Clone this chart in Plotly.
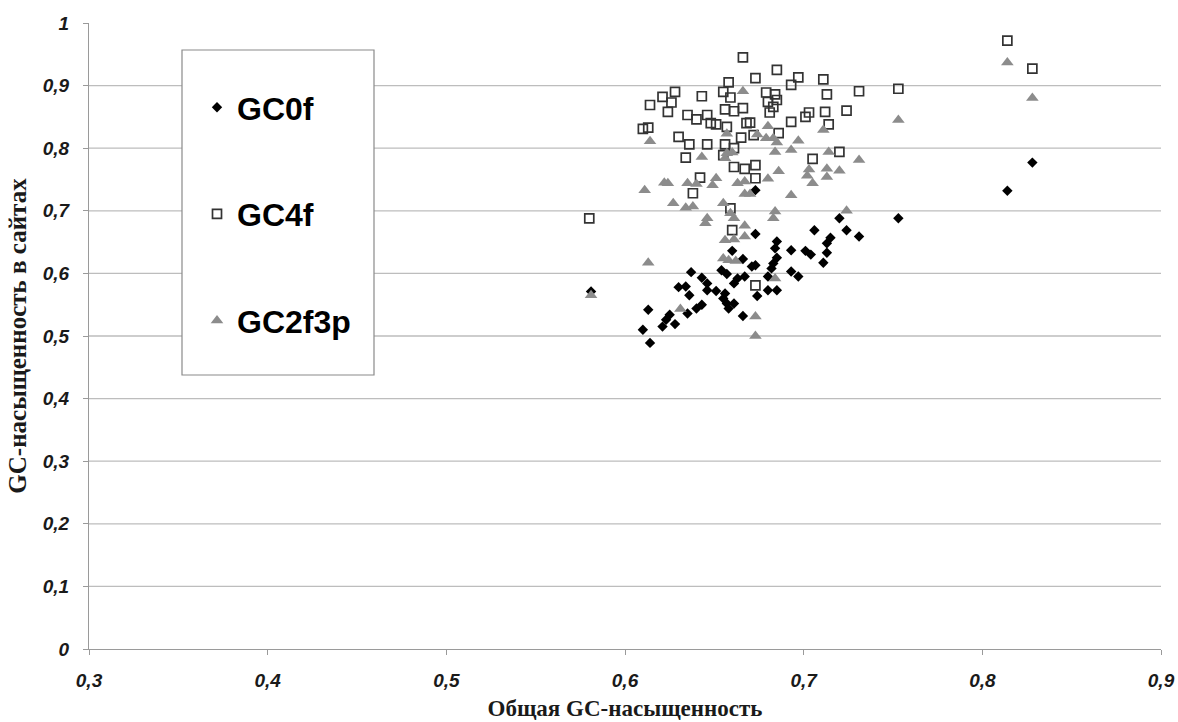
import plotly.graph_objects as go

# GC content: overall (x) vs. per-site (y)
gc0f_x = [0.581, 0.610, 0.613, 0.614, 0.621, 0.623, 0.625, 0.628, 0.630, 0.634,
          0.636, 0.635, 0.637, 0.640, 0.643, 0.643, 0.646, 0.646, 0.651, 0.656,
          0.654, 0.657, 0.661, 0.663, 0.667, 0.655, 0.657, 0.658, 0.661, 0.666,
          0.660, 0.666, 0.673, 0.671, 0.673, 0.674, 0.673, 0.680, 0.680, 0.685,
          0.682, 0.683, 0.685, 0.684, 0.685, 0.693, 0.693, 0.697, 0.701, 0.704,
          0.706, 0.711, 0.713, 0.713, 0.715, 0.720, 0.724, 0.731, 0.753, 0.814,
          0.828]
gc0f_y = [0.571, 0.510, 0.542, 0.489, 0.515, 0.526, 0.534, 0.519, 0.578, 0.579,
          0.565, 0.536, 0.602, 0.544, 0.550, 0.593, 0.584, 0.573, 0.572, 0.568,
          0.605, 0.599, 0.584, 0.592, 0.595, 0.560, 0.552, 0.544, 0.552, 0.532,
          0.636, 0.623, 0.663, 0.611, 0.613, 0.564, 0.733, 0.595, 0.573, 0.573,
          0.608, 0.616, 0.625, 0.640, 0.651, 0.637, 0.603, 0.595, 0.636, 0.630,
          0.669, 0.617, 0.633, 0.648, 0.657, 0.688, 0.669, 0.659, 0.688, 0.732,
          0.777]

gc4f_x = [0.580, 0.610, 0.613, 0.614, 0.621, 0.626, 0.628, 0.624, 0.630, 0.634,
          0.635, 0.636, 0.640, 0.643, 0.646, 0.646, 0.648, 0.651, 0.642, 0.638,
          0.655, 0.659, 0.658, 0.656, 0.661, 0.666, 0.657, 0.656, 0.661, 0.665,
          0.668, 0.655, 0.661, 0.667, 0.666, 0.659, 0.660, 0.673, 0.673, 0.685,
          0.697, 0.693, 0.711, 0.731, 0.679, 0.684, 0.685, 0.680, 0.713, 0.681,
          0.683, 0.703, 0.701, 0.712, 0.724, 0.693, 0.714, 0.670, 0.672, 0.686,
          0.705, 0.720, 0.673, 0.673, 0.814, 0.828, 0.753]
gc4f_y = [0.688, 0.831, 0.833, 0.869, 0.882, 0.873, 0.890, 0.858, 0.818, 0.785,
          0.853, 0.806, 0.846, 0.883, 0.853, 0.806, 0.840, 0.838, 0.753, 0.728,
          0.890, 0.881, 0.905, 0.862, 0.859, 0.864, 0.834, 0.806, 0.800, 0.817,
          0.840, 0.789, 0.770, 0.767, 0.945, 0.704, 0.669, 0.581, 0.912, 0.925,
          0.913, 0.901, 0.910, 0.891, 0.889, 0.886, 0.877, 0.874, 0.886, 0.857,
          0.866, 0.857, 0.850, 0.858, 0.860, 0.842, 0.838, 0.841, 0.821, 0.824,
          0.783, 0.794, 0.773, 0.752, 0.972, 0.927, 0.895]

gc2f3p_x = [0.581, 0.611, 0.614, 0.613, 0.622, 0.624, 0.627, 0.631, 0.634, 0.635,
            0.638, 0.640, 0.643, 0.645, 0.646, 0.649, 0.651, 0.655, 0.656, 0.657,
            0.660, 0.657, 0.659, 0.661, 0.663, 0.666, 0.667, 0.667, 0.667, 0.656,
            0.661, 0.655, 0.658, 0.662, 0.667, 0.670, 0.673, 0.673, 0.674, 0.680,
            0.679, 0.683, 0.685, 0.684, 0.680, 0.686, 0.683, 0.684, 0.693, 0.693,
            0.697, 0.702, 0.703, 0.705, 0.711, 0.713, 0.713, 0.714, 0.720, 0.724,
            0.731, 0.684, 0.814, 0.828, 0.753]
gc2f3p_y = [0.565, 0.733, 0.811, 0.617, 0.745, 0.744, 0.712, 0.543, 0.705, 0.744,
            0.707, 0.743, 0.786, 0.680, 0.688, 0.741, 0.752, 0.712, 0.784, 0.792,
            0.793, 0.823, 0.696, 0.688, 0.744, 0.891, 0.676, 0.747, 0.659, 0.653,
            0.654, 0.624, 0.621, 0.620, 0.727, 0.727, 0.531, 0.500, 0.822, 0.835,
            0.816, 0.816, 0.809, 0.794, 0.751, 0.763, 0.688, 0.699, 0.725, 0.797,
            0.812, 0.756, 0.766, 0.744, 0.829, 0.767, 0.754, 0.794, 0.764, 0.700,
            0.781, 0.592, 0.937, 0.880, 0.845]

x_ticks = [0.3, 0.4, 0.5, 0.6, 0.7, 0.8, 0.9]
x_labels = ["0,3", "0,4", "0,5", "0,6", "0,7", "0,8", "0,9"]
y_ticks = [0, 0.1, 0.2, 0.3, 0.4, 0.5, 0.6, 0.7, 0.8, 0.9, 1.0]
y_labels = ["0", "0,1", "0,2", "0,3", "0,4", "0,5", "0,6", "0,7", "0,8", "0,9", "1"]

tick_font = dict(family="Liberation Sans, Arial, sans-serif", size=19, color="#1a1a1a",
                 weight="bold", style="italic")
serif = "Liberation Serif, Times New Roman, serif"

fig = go.Figure()

fig.add_trace(go.Scatter(
    x=gc0f_x, y=gc0f_y, mode="markers", name="GC0f", legendgroup="a",
    marker=dict(symbol="diamond", size=8, color="#000000", line=dict(width=0)),
))
fig.add_trace(go.Scatter(
    x=gc4f_x, y=gc4f_y, mode="markers", name="GC4f", legendgroup="b",
    marker=dict(symbol="square-open", size=9, color="#333333", line=dict(width=1.7)),
))
fig.add_trace(go.Scatter(
    x=gc2f3p_x, y=gc2f3p_y, mode="markers", name="GC2f3p", legendgroup="c",
    marker=dict(symbol="triangle-up", size=11, color="#8c8c8c", line=dict(width=0)),
))

shapes = []
# horizontal grid
for v in y_ticks[1:-1]:
    shapes.append(dict(type="line", xref="paper", yref="y", x0=0, x1=1, y0=v, y1=v,
                       line=dict(color="#bdbdbd", width=1.3), layer="below"))
# legend frame
shapes.append(dict(type="rect", xref="paper", yref="paper",
                   x0=(182 - 89) / 1072, x1=(374 - 89) / 1072,
                   y0=(649 - 375) / 626, y1=(649 - 50) / 626,
                   line=dict(color="#8a8a8a", width=1.2), fillcolor="#ffffff", layer="above"))

fig.update_layout(
    width=1178, height=722,
    margin=dict(l=89, r=17, t=23, b=73, autoexpand=False),
    paper_bgcolor="#ffffff", plot_bgcolor="#ffffff",
    shapes=shapes,
    showlegend=True,
    legend=dict(
        x=(197 - 89) / 1072, y=(649 - 80) / 626, xanchor="left", yanchor="top",
        bgcolor="rgba(0,0,0,0)", borderwidth=0,
        font=dict(family="Liberation Sans, Arial, sans-serif", size=32, color="#000000",
                  weight="bold"),
        tracegroupgap=62, itemsizing="trace",
    ),
    xaxis=dict(
        range=[0.3, 0.9], tickvals=x_ticks, ticktext=x_labels, automargin=False,
        showgrid=False, zeroline=False,
        showline=True, linecolor="#9a9a9a", linewidth=1.3,
        ticks="outside", ticklen=5, tickcolor="#9a9a9a", ticklabelstandoff=9,
        tickfont=tick_font,
        title=dict(text="Общая GC-насыщенность", standoff=9,
                   font=dict(family=serif, size=23, color="#1a1a1a", weight="bold")),
    ),
    yaxis=dict(
        range=[0, 1], tickvals=y_ticks, ticktext=y_labels, automargin=False,
        showgrid=False, zeroline=False,
        showline=True, linecolor="#9a9a9a", linewidth=1.3,
        ticks="outside", ticklen=5, tickcolor="#9a9a9a", ticklabelstandoff=10,
        tickfont=tick_font,
        title=dict(text="GC-насыщенность в сайтах", standoff=8,
                   font=dict(family=serif, size=25, color="#1a1a1a", weight="bold")),
    ),
)

fig.write_html("out.html")
